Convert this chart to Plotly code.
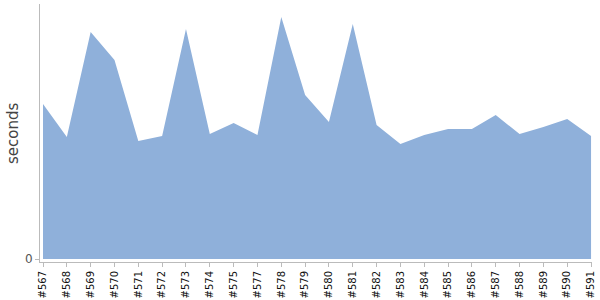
import plotly.graph_objects as go

builds = ["#567", "#568", "#569", "#570", "#571", "#572", "#573", "#574", "#575", "#577",
          "#578", "#579", "#580", "#581", "#582", "#583", "#584", "#585", "#586", "#587",
          "#588", "#589", "#590", "#591"]
seconds = [155, 122, 227, 199, 118, 123, 230, 125, 136, 124,
           242, 164, 137, 235, 134, 115, 124, 130, 130, 144,
           125, 132, 140, 123]

fig = go.Figure()
fig.add_trace(go.Scatter(
    x=list(range(len(builds))), y=seconds, mode="lines", fill="tozeroy",
    line=dict(width=0, color="rgb(143,176,218)"),
    fillcolor="rgb(143,176,218)", hoverinfo="skip", showlegend=False,
))

fig.update_layout(
    width=600, height=300,
    margin=dict(l=40, r=8, t=4, b=38),
    paper_bgcolor="white", plot_bgcolor="white",
    font=dict(family="DejaVu Sans", color="#222"),
    xaxis=dict(
        range=[-0.126, 23.04], tickmode="array",
        tickvals=list(range(len(builds))), ticktext=builds,
        tickangle=-90, tickfont=dict(size=10, color="#111"),
        ticks="outside", ticklen=4, tickcolor="#bbb",
        showline=True, linecolor="#bbb", linewidth=1,
        showgrid=False, zeroline=False, automargin=False,
    ),
    yaxis=dict(
        range=[-3, 255], tickmode="array", tickvals=[0], ticktext=["0"],
        tickfont=dict(size=12, color="#555"),
        ticks="outside", ticklen=4, tickcolor="#bbb",
        showline=True, linecolor="#bbb", linewidth=1,
        showgrid=False, zeroline=False, automargin=False,
    ),
    annotations=[dict(
        text="seconds", xref="paper", yref="paper", x=-0.049, y=0.5,
        xanchor="center", yanchor="middle", textangle=-90, showarrow=False,
        font=dict(size=15, color="#444", family="DejaVu Sans"),
    )],
)

fig.write_html("out.html")
